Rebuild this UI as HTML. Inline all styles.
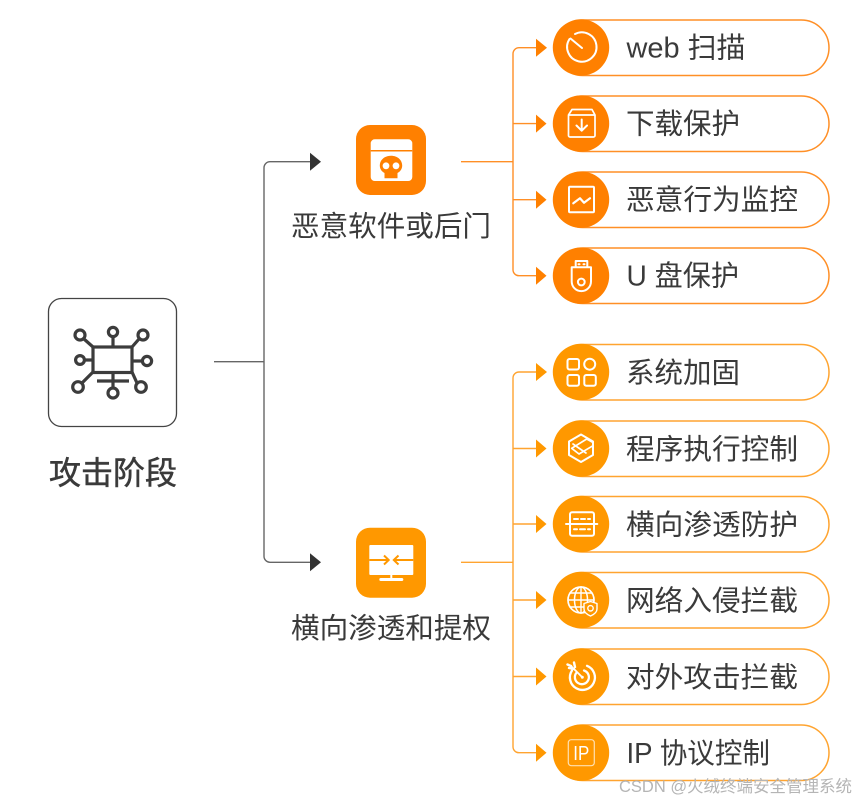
<!DOCTYPE html>
<html lang="zh-CN">
<head>
<meta charset="utf-8">
<title>攻击阶段</title>
<style>
html,body{margin:0;padding:0;background:#fff;width:855px;height:801px;overflow:hidden}
svg{display:block}
text{font-family:"Liberation Sans","Noto Sans CJK SC",sans-serif;fill:#3a3a3a}
</style>
</head>
<body>
<svg width="855" height="801" viewBox="0 0 855 801" xmlns="http://www.w3.org/2000/svg">
<!-- left box -->
<rect x="48.5" y="298.5" width="128" height="128" rx="13" fill="#fff" stroke="#444" stroke-width="1.3"/>
<g fill="none" stroke="#3c3c3c" stroke-width="3.2">
  <rect x="93" y="347" width="39" height="25.5"/>
  <circle cx="80" cy="335" r="5"/><circle cx="113" cy="332" r="4.6"/><circle cx="143" cy="335" r="5"/>
  <circle cx="80" cy="360" r="4.4"/><circle cx="147" cy="361" r="4.6"/>
  <circle cx="78" cy="387" r="5.3"/><circle cx="113" cy="393" r="5"/><circle cx="141" cy="387" r="5.3"/>
  <path d="M84 339L93 347M113 337V347M139 339L132 347M85 360H93M142 361H132M82 383L93 372M137 383L132 372M113 372V388M97 381H129"/>
</g>
<text x="113" y="484" font-size="32" text-anchor="middle" textLength="128" lengthAdjust="spacingAndGlyphs" stroke="#3a3a3a" stroke-width="0.5">攻击阶段</text>

<!-- gray connector -->
<path d="M214 361.7H264M310 161.7H270a6 6 0 0 0-6 6V556.3a6 6 0 0 0 6 6H310" fill="none" stroke="#666" stroke-width="1.4"/>
<path d="M310 152.7L321 161.7L310 170.7Z" fill="#333"/>
<path d="M310 553.3L321 562.3L310 571.3Z" fill="#333"/>

<!-- node 1 -->
<rect x="356" y="125" width="70" height="70" rx="14" fill="#ff8000"/>
<rect x="370.7" y="139.3" width="41.6" height="41.7" rx="4" fill="#fff"/>
<path d="M370.7 150.7H412.3" stroke="#ff8000" stroke-width="1.5"/>
<path d="M391 155.7c6.4 0 11.2 4.2 11.2 9.8 0 3.4-1.9 6.1-4.7 7.5v5.3h-13v-5.3c-2.8-1.4-4.7-4.1-4.7-7.5 0-5.6 4.8-9.8 11.2-9.8z" fill="#ff8000"/>
<circle cx="386" cy="165.8" r="3.4" fill="#fff"/><circle cx="396" cy="165.8" r="3.4" fill="#fff"/>
<text x="391" y="236" font-size="28.5" text-anchor="middle" textLength="200" lengthAdjust="spacingAndGlyphs">恶意软件或后门</text>

<!-- node 2 -->
<rect x="356" y="527.7" width="70" height="70" rx="14" fill="#ff9800"/>
<rect x="369.3" y="545" width="44" height="30" rx="1" fill="#fff"/>
<rect x="379.3" y="578" width="24" height="3" rx="1.5" fill="#fff"/>
<rect x="390.3" y="575" width="2" height="4" fill="#fff"/>
<g fill="none" stroke="#ff9800" stroke-width="2">
  <path d="M369.3 560H388M384 555.5L388.7 560L384 564.5"/>
  <path d="M413.3 560H394.5M398.5 555.5L393.8 560L398.5 564.5"/>
</g>
<text x="391" y="638" font-size="28.5" text-anchor="middle" textLength="200" lengthAdjust="spacingAndGlyphs">横向渗透和提权</text>

<!-- orange connectors top -->
<g fill="none" stroke="#ff8f26" stroke-width="1.4">
  <path d="M461 161.7H513"/>
  <path d="M536 47.7H519a6 6 0 0 0-6 6V269.7a6 6 0 0 0 6 6H536"/>
  <path d="M513 123.6H536M513 199.7H536"/>
</g>
<g fill="#ff8000">
  <path d="M536 38.7L547 47.7L536 56.7Z"/>
  <path d="M536 114.6L546.5 123.6L536 132.6Z"/>
  <path d="M536 190.7L546.5 199.7L536 208.7Z"/>
  <path d="M536 266.7L546.5 275.7L536 284.7Z"/>
</g>
<!-- orange connectors bottom -->
<g fill="none" stroke="#ffa430" stroke-width="1.4">
  <path d="M461 562.3H513"/>
  <path d="M536 372H519a6 6 0 0 0-6 6V746.7a6 6 0 0 0 6 6H536"/>
  <path d="M513 448.5H536M513 524H536M513 600H536M513 676.5H536"/>
</g>
<g fill="#ff9800">
  <path d="M536 363L547 372L536 381Z"/>
  <path d="M536 439.5L546.5 448.5L536 457.5Z"/>
  <path d="M536 515L546.5 524L536 533Z"/>
  <path d="M536 591L546.5 600L536 609Z"/>
  <path d="M536 667.5L546.5 676.5L536 685.5Z"/>
  <path d="M536 743.7L546.5 752.7L536 761.7Z"/>
</g>

<!-- pills top -->
<g fill="#fff" stroke="#ff8f26" stroke-width="1.5">
  <rect x="555" y="20" width="274" height="55.5" rx="27.7"/>
  <rect x="555" y="96" width="274" height="55.5" rx="27.7"/>
  <rect x="555" y="172" width="274" height="55.5" rx="27.7"/>
  <rect x="555" y="248" width="274" height="55.5" rx="27.7"/>
</g>
<!-- pills bottom -->
<g fill="#fff" stroke="#ffa430" stroke-width="1.5">
  <rect x="555" y="344.5" width="274" height="55.5" rx="27.7"/>
  <rect x="555" y="421" width="274" height="55.5" rx="27.7"/>
  <rect x="555" y="496.5" width="274" height="55.5" rx="27.7"/>
  <rect x="555" y="572.5" width="274" height="55.5" rx="27.7"/>
  <rect x="555" y="649" width="274" height="55.5" rx="27.7"/>
  <rect x="555" y="725" width="274" height="55.5" rx="27.7"/>
</g>
<g fill="#ff8000">
  <circle cx="581" cy="47.5" r="28.2"/><circle cx="581" cy="123.6" r="28.2"/><circle cx="581" cy="199.7" r="28.2"/><circle cx="581" cy="275.7" r="28.2"/>
</g>
<g fill="#ff9800">
  <circle cx="581" cy="372" r="28.2"/><circle cx="581" cy="448.5" r="28.2"/><circle cx="581" cy="524" r="28.2"/><circle cx="581" cy="600" r="28.2"/><circle cx="581" cy="676.5" r="28.2"/><circle cx="581" cy="752.7" r="28.2"/>
</g>

<!-- circle icons -->
<g fill="none" stroke="#fff" stroke-width="2" stroke-linecap="round" stroke-linejoin="round">
  <!-- clock -->
  <path d="M575 34A14.7 14.7 0 1 1 569.5 39"/><path d="M570.5 38.5L582 48"/>
  <!-- download box -->
  <path d="M568.5 115V135.5a1.5 1.5 0 0 0 1.5 1.5H593.5a1.5 1.5 0 0 0 1.5-1.5V115L592 109.5H572ZM568.5 115H595" stroke-width="1.7"/>
  <path d="M581.7 119.5V130.5M576.5 125.5L581.7 130.7L587 125.5"/>
  <!-- monitor -->
  <rect x="569" y="186.7" width="25" height="25.5" rx="1"/>
  <path d="M573.3 203.3L580 198.3L584 202.7L590 198.3" stroke-width="2.2"/>
  <!-- usb -->
  <path d="M571.7 267.3H591V281.5a9.6 9.6 0 0 1-19.3 0Z" stroke-linejoin="round"/>
  <path d="M575.7 267V261H587.3V267"/>
  <circle cx="581.3" cy="282" r="3.4"/>
  <path d="M578.5 264.2H579.5M583.5 264.2H584.5"/>
  <!-- grid -->
  <rect x="567.5" y="359" width="11.5" height="10.5" rx="2"/>
  <circle cx="589.7" cy="364.2" r="5.5"/>
  <rect x="567.5" y="375" width="11.5" height="10.7" rx="2"/>
  <rect x="584.3" y="375" width="11.5" height="10.7" rx="2"/>
  <!-- hex -->
  <path d="M581 434.5L593 441.5V455L581 462L569 455V441.5Z"/>
  <path d="M571.7 448.3L586.7 439L593 442.5M571.7 448.3L579 454L593 445.7M573 444L586 453" stroke-width="1.7"/>
  <!-- firewall -->
  <rect x="570" y="512.3" width="24" height="23.4" rx="2"/>
  <path d="M566 524H597.3"/>
  <path d="M574 519H578M581 519H585M588 519H590M574 529.3H577M580 529.3H585M588 529.3H590"/>
  <!-- globe -->
  <circle cx="581" cy="600" r="13" stroke-width="1.7"/>
  <ellipse cx="581" cy="600" rx="6.5" ry="13" stroke-width="1.5"/>
  <path d="M581 587V613M568 600H594M570 593H592M570 607H592" stroke-width="1.4"/>
  <path d="M584 603.5L590.5 601.5L597 603.5V609C597 612.5 594 614.5 590.5 616C587 614.5 584 612.5 584 609Z" fill="#ff9800" stroke-width="1.4"/>
  <circle cx="590.5" cy="608.3" r="2.7" stroke-width="1.4"/>
  <!-- target -->
  <path d="M572 670.5A12.5 12.5 0 1 0 587 665.8" stroke-width="2.3"/>
  <path d="M576.5 672.7A7 7 0 1 0 584 670.5" stroke-width="2.3"/>
  <path d="M582.5 677.5L571 666" stroke-width="1.8"/>
  <path d="M571 666L567.5 664.5M574 662.5L575 667M569 668L574 669" stroke-width="2.4"/>
  <circle cx="582.3" cy="677.3" r="1.5" fill="#fff" stroke="none"/>
  <!-- IP -->
  <rect x="568.3" y="739.7" width="26" height="26" rx="3" stroke="#ffe0b0" stroke-width="1.2"/>
</g>
<text x="581.3" y="760" font-size="20" text-anchor="middle" style="fill:#fff" textLength="16" lengthAdjust="spacingAndGlyphs">IP</text>

<!-- pill text -->
<g font-size="28.5">
  <text x="626.5" y="57.5" textLength="119" lengthAdjust="spacingAndGlyphs">web 扫描</text>
  <text x="626" y="133.5" textLength="114" lengthAdjust="spacingAndGlyphs">下载保护</text>
  <text x="626" y="209.5" textLength="172" lengthAdjust="spacingAndGlyphs">恶意行为监控</text>
  <text x="626.5" y="285.5" textLength="112.5" lengthAdjust="spacingAndGlyphs">U 盘保护</text>
  <text x="626" y="382.5" textLength="114" lengthAdjust="spacingAndGlyphs">系统加固</text>
  <text x="626" y="459" textLength="172" lengthAdjust="spacingAndGlyphs">程序执行控制</text>
  <text x="626" y="534.5" textLength="172" lengthAdjust="spacingAndGlyphs">横向渗透防护</text>
  <text x="626" y="610.5" textLength="172" lengthAdjust="spacingAndGlyphs">网络入侵拦截</text>
  <text x="626" y="687" textLength="172" lengthAdjust="spacingAndGlyphs">对外攻击拦截</text>
  <text x="626.5" y="763" textLength="143.5" lengthAdjust="spacingAndGlyphs">IP 协议控制</text>
</g>

<!-- watermark -->
<text x="619" y="792" font-size="16.5" style="fill:#b5b5b5" textLength="233" lengthAdjust="spacingAndGlyphs">CSDN @火绒终端安全管理系统</text>
</svg>
</body>
</html>
